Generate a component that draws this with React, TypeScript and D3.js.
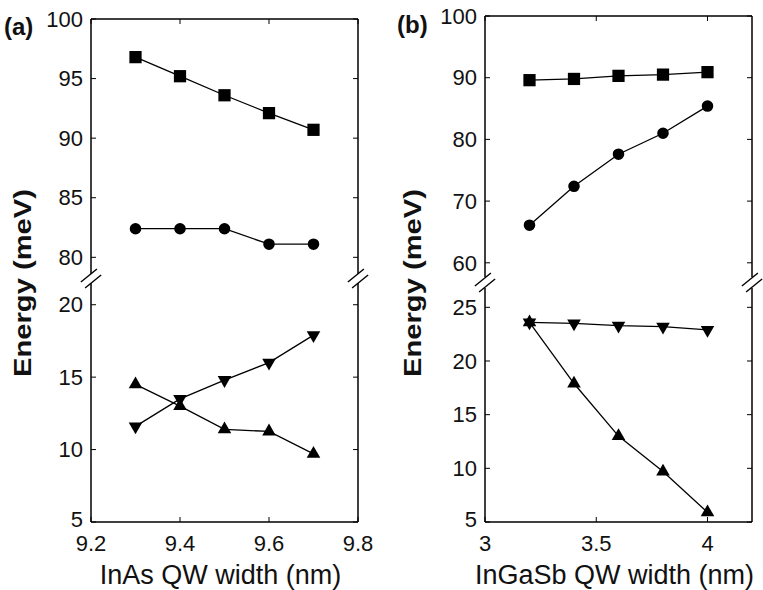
import React from "react";
import * as d3 from "d3";

// panel (a): InAs QW width
const xA = [9.3, 9.4, 9.5, 9.6, 9.7];
const aSquares = [96.8, 95.2, 93.6, 92.1, 90.7];
const aCircles = [82.4, 82.4, 82.4, 81.1, 81.1];
const aDown = [11.6, 13.5, 14.8, 16.0, 17.9];
const aUp = [14.5, 13.0, 11.4, 11.25, 9.7];
const aXTicks = [9.2, 9.4, 9.6, 9.8];
const aUpperTicks = [80, 85, 90, 95, 100];
const aLowerTicks = [5, 10, 15, 20];

// panel (b): InGaSb QW width
const xB = [3.2, 3.4, 3.6, 3.8, 4.0];
const bSquares = [89.6, 89.8, 90.3, 90.5, 90.9];
const bCircles = [66.1, 72.4, 77.6, 81.0, 85.4];
const bDown = [23.6, 23.5, 23.3, 23.2, 22.9];
const bUp = [23.6, 17.9, 13.0, 9.7, 5.9];
const bXTicks = [3, 3.5, 4];
const bUpperTicks = [60, 70, 80, 90, 100];
const bLowerTicks = [5, 10, 15, 20, 25];

const FONT = "'Liberation Sans', Arial, Helvetica, sans-serif";

type PanelProps = {
  tag: string;
  xLabel: string;
  xs: number[];
  upper: { values: number[]; shape: d3.SymbolType }[];
  lower: { values: number[]; shape: d3.SymbolType; flip?: boolean }[];
  xDomain: [number, number];
  upperDomain: [number, number];
  lowerDomain: [number, number];
  xTicks: number[];
  upperTicks: number[];
  lowerTicks: number[];
  left: number;
  right: number;
  top: number;
  upperBottom: number;
  lowerTop: number;
  bottom: number;
  labelX: number;
  tagX: number;
  tagY: number;
};

const symSize = (shape: d3.SymbolType) =>
  shape === d3.symbolSquare ? 150 : shape === d3.symbolCircle ? 105 : 80;

const Panel = (p: PanelProps) => {
  const x = d3.scaleLinear().domain(p.xDomain).range([p.left, p.right]);
  const yU = d3.scaleLinear().domain(p.upperDomain).range([p.upperBottom, p.top]);
  const yL = d3.scaleLinear().domain(p.lowerDomain).range([p.bottom, p.lowerTop]);
  const tick = 5;
  const breakMid = (p.upperBottom + p.lowerTop) / 2;

  const series = (
    list: { values: number[]; shape: d3.SymbolType; flip?: boolean }[],
    y: d3.ScaleLinear<number, number>,
    key: string
  ) =>
    list.map((s, i) => {
      const pts = p.xs.map((xv, j) => [x(xv), y(s.values[j])] as [number, number]);
      const path = d3.line()(pts) || "";
      const sym = d3.symbol().type(s.shape).size(symSize(s.shape))() || "";
      return (
        <g key={key + i}>
          <path d={path} fill="none" stroke="#000" strokeWidth={1.3} />
          {pts.map((pt, j) => (
            <path
              key={j}
              d={sym}
              transform={`translate(${pt[0]},${pt[1]})${s.flip ? " rotate(180)" : ""}`}
              fill="#000"
            />
          ))}
        </g>
      );
    });

  const slashes = (cx: number) => (
    <g stroke="#000" strokeWidth={1.4}>
      {[-3, 3].map((o) => (
        <line key={o} x1={cx - 8 + o * 0.7} y1={breakMid + 6.5 + o} x2={cx + 8 + o * 0.7} y2={breakMid - 6.5 + o} />
      ))}
    </g>
  );

  return (
    <g fontFamily={FONT}>
      {/* frame segments */}
      <g stroke="#000" strokeWidth={1.5} fill="none">
        <line x1={p.left} x2={p.right} y1={p.top} y2={p.top} />
        <line x1={p.left} x2={p.right} y1={p.bottom} y2={p.bottom} />
        <line x1={p.left} x2={p.left} y1={p.top} y2={p.upperBottom} />
        <line x1={p.right} x2={p.right} y1={p.top} y2={p.upperBottom} />
        <line x1={p.left} x2={p.left} y1={p.lowerTop} y2={p.bottom} />
        <line x1={p.right} x2={p.right} y1={p.lowerTop} y2={p.bottom} />
      </g>
      {slashes(p.left)}
      {slashes(p.right)}
      {/* ticks */}
      <g stroke="#000" strokeWidth={1}>
        {p.xTicks.map((t) => (
          <g key={"xt" + t}>
            <line x1={x(t)} x2={x(t)} y1={p.bottom} y2={p.bottom - tick} />
            <line x1={x(t)} x2={x(t)} y1={p.top} y2={p.top + tick} />
          </g>
        ))}
        {p.upperTicks.map((t) => (
          <g key={"ut" + t}>
            <line x1={p.left} x2={p.left + tick} y1={yU(t)} y2={yU(t)} />
            <line x1={p.right} x2={p.right - tick} y1={yU(t)} y2={yU(t)} />
          </g>
        ))}
        {p.lowerTicks.map((t) => (
          <g key={"lt" + t}>
            <line x1={p.left} x2={p.left + tick} y1={yL(t)} y2={yL(t)} />
            <line x1={p.right} x2={p.right - tick} y1={yL(t)} y2={yL(t)} />
          </g>
        ))}
      </g>
      {/* tick labels */}
      <g fontSize={22} fill="#111">
        {p.xTicks.map((t) => (
          <text key={"xl" + t} x={x(t)} y={551} textAnchor="middle">
            {String(t)}
          </text>
        ))}
        {p.upperTicks.map((t) => (
          <text key={"ul" + t} x={p.left - 8} y={yU(t)} textAnchor="end" dy="0.35em">
            {t}
          </text>
        ))}
        {p.lowerTicks.map((t) => (
          <text
            key={"ll" + t}
            x={p.left - 8}
            y={yL(t) - (t === p.lowerTicks[0] ? 3 : 0)}
            textAnchor="end"
            dy="0.35em"
          >
            {t}
          </text>
        ))}
      </g>
      {series(p.upper, yU, "u")}
      {series(p.lower, yL, "l")}
      {/* labels */}
      <text x={(p.left + p.right) / 2 - 4} y={584} fontSize={27} textAnchor="middle" fill="#111">
        {p.xLabel}
      </text>
      <text
        transform={`translate(${p.labelX},283) rotate(-90)`}
        fontSize={23}
        fontWeight="bold"
        textAnchor="middle"
        textLength={188}
        lengthAdjust="spacingAndGlyphs"
        fill="#111"
      >
        Energy (meV)
      </text>
      <text x={p.tagX} y={p.tagY} fontSize={24} fontWeight="bold" fill="#111">
        {p.tag}
      </text>
    </g>
  );
};

export default function App() {
  return (
    <svg
      width={763}
      height={590}
      style={{ position: "absolute", left: 0, top: 0, background: "#fff" }}
    >
      <rect width={763} height={590} fill="#fff" />
      <Panel
        tag="(a)"
        xLabel="InAs QW width (nm)"
        xs={xA}
        upper={[
          { values: aSquares, shape: d3.symbolSquare },
          { values: aCircles, shape: d3.symbolCircle },
        ]}
        lower={[
          { values: aDown, shape: d3.symbolTriangle, flip: true },
          { values: aUp, shape: d3.symbolTriangle },
        ]}
        xDomain={[9.2, 9.8]}
        upperDomain={[78.6, 100]}
        lowerDomain={[5, 21.5]}
        xTicks={aXTicks}
        upperTicks={aUpperTicks}
        lowerTicks={aLowerTicks}
        left={91}
        right={358}
        top={19}
        upperBottom={274}
        lowerTop={283}
        bottom={522}
        labelX={31}
        tagX={4}
        tagY={35}
      />
      <Panel
        tag="(b)"
        xLabel="InGaSb QW width (nm)"
        xs={xB}
        upper={[
          { values: bSquares, shape: d3.symbolSquare },
          { values: bCircles, shape: d3.symbolCircle },
        ]}
        lower={[
          { values: bDown, shape: d3.symbolTriangle, flip: true },
          { values: bUp, shape: d3.symbolTriangle },
        ]}
        xDomain={[3, 4.2]}
        upperDomain={[57.7, 100]}
        lowerDomain={[5, 26.8]}
        xTicks={bXTicks}
        upperTicks={bUpperTicks}
        lowerTicks={bLowerTicks}
        left={485}
        right={752}
        top={16}
        upperBottom={277}
        lowerTop={288}
        bottom={522}
        labelX={421}
        tagX={397}
        tagY={33}
      />
    </svg>
  );
}
